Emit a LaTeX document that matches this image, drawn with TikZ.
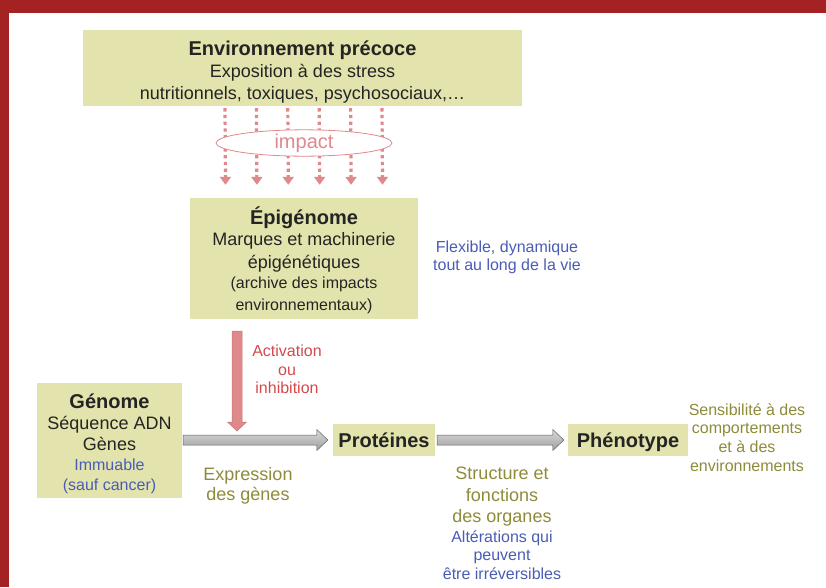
\documentclass[tikz,border=0pt]{standalone}
\usepackage{fontspec}
\setmainfont{Liberation Sans}
\usetikzlibrary{arrows.meta,calc,shapes.geometric}
\definecolor{frame}{HTML}{A52222}
\definecolor{boxfill}{HTML}{E3E3AD}
\definecolor{dark}{HTML}{242424}
\definecolor{olive}{HTML}{8E8B3A}
\definecolor{bluet}{HTML}{4A5DB5}
\definecolor{redt}{HTML}{D44A4C}
\definecolor{pinka}{HTML}{E0898C}
\definecolor{pinkd}{HTML}{C97274}
\tikzset{
  box/.style={fill=boxfill, draw=none, inner sep=0pt},
  tb/.style={anchor=base, inner sep=0pt, text=dark, font=\fontsize{20}{24}\selectfont\bfseries},
  tm/.style={anchor=base, inner sep=0pt, text=dark, font=\fontsize{18}{22}\selectfont},
  ts/.style={anchor=base, inner sep=0pt, text=dark, font=\fontsize{16}{19}\selectfont},
  dotarrow/.style={draw=pinka, line width=3.2pt, dash pattern=on 3.3pt off 3.4pt,
     -{Triangle[width=11pt,length=8pt]}},
  garrow/.style={top color=gray!30, bottom color=gray!75, draw=gray!75!black, line width=0.5pt},
  parrow/.style={fill=pinka, draw=pinkd, line width=0.5pt}
}
\newcommand\garrowdraw[2]{\shade[garrow] ($(#1)+(0,-5)$) -- ($(#2)+(-11,-5)$) -- ($(#2)+(-11,-10.5)$) -- (#2) -- ($(#2)+(-11,10.5)$) -- ($(#2)+(-11,5)$) -- ($(#1)+(0,5)$) -- cycle;}
\begin{document}
\begin{tikzpicture}[x=1pt,y=-1pt]
\useasboundingbox (0,0) rectangle (826,587);
\fill[white] (0,0) rectangle (826,587);
\fill[frame] (0,0) rectangle (826,13);
\fill[frame] (0,0) rectangle (9,587);

% boxes
\node[box, minimum width=439pt, minimum height=76pt] (env) at (302.5,68) {};
\node[box, minimum width=228pt, minimum height=121pt] (epi) at (304,258.5) {};
\node[box, minimum width=145pt, minimum height=115pt] (gen) at (109.5,440) {};
\node[box, minimum width=102pt, minimum height=32pt] (prot) at (384,440) {};
\node[box, minimum width=120pt, minimum height=32pt] (phen) at (628,440) {};

% environnement text
\node[tb] (e1) at (302.5,55) {Environnement précoce};
\node[tm] (e2) at (302.5,77.5) {Exposition à des stress};
\node[tm] (e3) at (302.5,99.5) {nutritionnels, toxiques, psychosociaux,…};

% dotted arrows
\foreach \dx [count=\i] in {-78.5,-47.1,-15.7,15.7,47.1,78.5} {
  \draw[dotarrow] ([xshift=\dx pt, xshift=1pt, yshift=-2pt]env.south) -- ([xshift=\dx pt, yshift=13pt]epi.north);
}
\node[ellipse, draw=pinka, line width=0.8pt, fill=white, minimum width=176pt, minimum height=24pt, inner sep=0pt,
      text=pinka, font=\fontsize{20}{24}\selectfont] (imp) at (304,143) {impact};

% epigenome text
\node[tb] (p1) at (304,224) {Épigénome};
\node[tm] (p2) at (304,245.5) {Marques et machinerie};
\node[tm] (p3) at (304,268.5) {épigénétiques};
\node[ts] (p4) at (304,288.7) {(archive des impacts};
\node[ts] (p5) at (304,310.7) {environnementaux)};

\node[ts, text=bluet] (f1) at (507,252.7) {Flexible, dynamique};
\node[ts, text=bluet] (f2) at (507,270.7) {tout au long de la vie};

% pink arrow
\coordinate (pa) at ([xshift=-67pt, yshift=-12pt]epi.south);
\coordinate (pt) at ([yshift=9pt]pa |- gen.east);
\filldraw[parrow] ($(pa)+(-5,0)$) -- ($(pt)+(-5,-9)$) -- ($(pt)+(-9.5,-9)$) -- (pt)
   -- ($(pt)+(9.5,-9)$) -- ($(pt)+(5,-9)$) -- ($(pa)+(5,0)$) -- cycle;
\node[ts, text=redt] (a1) at (287,356.7) {Activation};
\node[ts, text=redt] (a2) at (287,375.2) {ou};
\node[ts, text=redt] (a3) at (287,393.7) {inhibition};

% gray arrows
\coordinate (g1s) at ([xshift=1pt]gen.east);
\coordinate (g1t) at ([xshift=-5pt]prot.west);
\coordinate (g2s) at ([xshift=2pt]prot.east);
\coordinate (g2t) at ([xshift=-4pt]phen.west);
\garrowdraw{g1s}{g1t}
\garrowdraw{g2s}{g2t}

% genome text
\node[tb] (n1) at (109.5,408) {Génome};
\node[tm] (n2) at (109.5,429.5) {Séquence ADN};
\node[tm] (n3) at (109.5,450.5) {Gènes};
\node[ts, text=bluet] (n4) at (109.5,470.7) {Immuable};
\node[ts, text=bluet] (n5) at (109.5,490.7) {(sauf cancer)};

\node[tm, text=olive] (x1) at (248,480.5) {Expression};
\node[tm, text=olive] (x2) at (248,500.5) {des gènes};

\node[tb] (pr) at (384,447) {Protéines};
\node[tb] (ph) at (628,447) {Phénotype};

\node[tm, text=olive] (s1) at (502,479.5) {Structure et};
\node[tm, text=olive] (s2) at (502,501.5) {fonctions};
\node[tm, text=olive] (s3) at (502,522.5) {des organes};
\node[ts, text=bluet] (s4) at (502,542.7) {Altérations qui};
\node[ts, text=bluet] (s5) at (502,560.7) {peuvent};
\node[ts, text=bluet] (s6) at (502,579.7) {être irréversibles};

\node[ts, text=olive] (v1) at (747,415.7) {Sensibilité à des};
\node[ts, text=olive] (v2) at (747,433.7) {comportements};
\node[ts, text=olive] (v3) at (747,452.7) {et à des};
\node[ts, text=olive] (v4) at (747,471.7) {environnements};
\end{tikzpicture}
\end{document}
